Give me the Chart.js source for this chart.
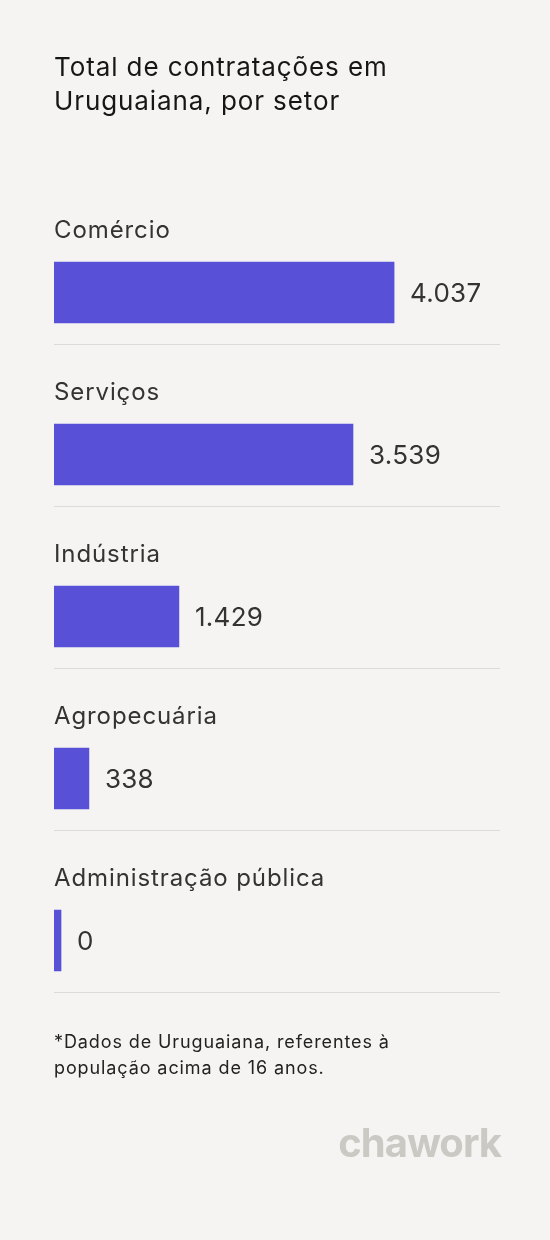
<!DOCTYPE html>
<html><head><meta charset="utf-8">
<script src="https://cdn.jsdelivr.net/npm/chart.js@4"></script>
<style>
  body { margin:0; background:#f5f4f2; font-family: Inter, "Noto Sans", sans-serif; }
  #wrap { position:relative; width:550px; height:1240px; }
  canvas { position:absolute; left:0; top:0; }
  .title { position:absolute; left:54px; top:50px; font-size:26px; letter-spacing:0.9px; line-height:34px; color:#161616; }
  .note { position:absolute; left:54px; top:1029px; font-size:18px; letter-spacing:0.9px; line-height:26px; color:#222; }
  .logo { position:absolute; right:49px; top:1118px; font-size:40px; font-weight:700; color:#cbc9c3; letter-spacing:-1px; }
</style></head>
<body>
<div id="wrap">
  <canvas id="c" width="550" height="1240"></canvas>
  <div class="title">Total de contratações em<br>Uruguaiana, por setor</div>
  <div class="note">*Dados de Uruguaiana, referentes à<br>população acima de 16 anos.</div>
  <div class="logo">chawork</div>
</div>
<script>
// ----------------------------
// DATA
// ----------------------------
const sectors = ["Comércio", "Serviços", "Indústria", "Agropecuária", "Administração pública"];
const hires = [4037, 3539, 1429, 338, 0];
const hireLabels = ["4.037", "3.539", "1.429", "338", "0"];

const barColor = "#5850d6";
const minStub = -85; // keeps zero-value bar visible as a thin stub

// draws sector names above bars, values to the right, separators below
const rowText = {
  id: "rowText",
  afterDatasetsDraw(chart) {
    const ctx = chart.ctx;
    const meta = chart.getDatasetMeta(0);
    const area = chart.chartArea;
    const xs = chart.scales.x;
    ctx.save();
    meta.data.forEach((bar, i) => {
      const y = bar.y;
      ctx.fillStyle = "#333";
      ctx.textBaseline = "middle";
      ctx.font = "24px Inter, 'Noto Sans', sans-serif";
      ctx.letterSpacing = "0.9px";
      ctx.fillText(sectors[i], area.left, y - 62);
      ctx.font = "26px Inter, 'Noto Sans', sans-serif";
      ctx.letterSpacing = "0.3px";
      ctx.fillText(hireLabels[i], xs.getPixelForValue(hires[i]) + 16, y + 2);
      ctx.strokeStyle = "#dddbd7";
      ctx.lineWidth = 1;
      ctx.beginPath();
      ctx.moveTo(area.left, Math.round(y + 51) + 0.5);
      ctx.lineTo(area.right, Math.round(y + 51) + 0.5);
      ctx.stroke();
    });
    ctx.restore();
  }
};

new Chart(document.getElementById("c"), {
  type: "bar",
  data: {
    labels: sectors,
    datasets: [{
      data: hires.map(v => [minStub, v]),
      backgroundColor: barColor,
      barThickness: 61
    }]
  },
  options: {
    indexAxis: "y",
    responsive: false,
    animation: false,
    layout: { padding: { left: 54, right: 50, top: 211.5, bottom: 218.5 } },
    plugins: { legend: { display: false }, tooltip: { enabled: false } },
    scales: {
      x: { display: false, min: minStub, max: 5321 },
      y: { display: false }
    }
  },
  plugins: [rowText]
});
</script>
</body></html>
